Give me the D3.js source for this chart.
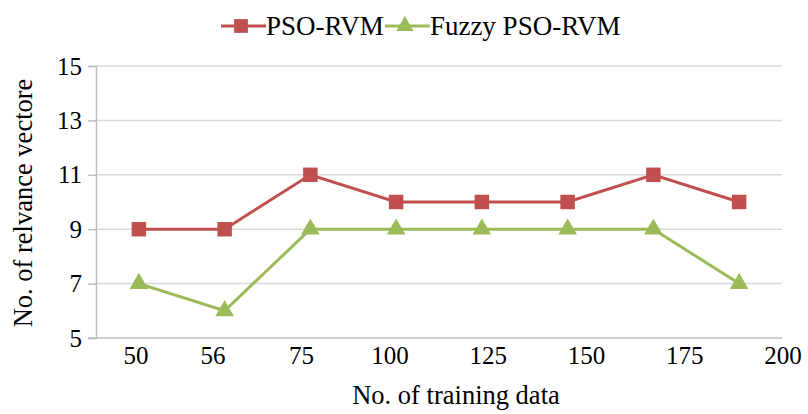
<!DOCTYPE html>
<html>
<head>
<meta charset="utf-8">
<script src="https://cdn.jsdelivr.net/npm/d3@7.9.0/dist/d3.min.js"></script>
<style>
  body { margin: 0; background: #fff; }
  text { font-family: "Liberation Serif", "Times New Roman", serif; fill: #000; }
</style>
</head>
<body>
<svg id="chart" width="808" height="414"></svg>
<script>
// data
const trainingSizes = ['50', '56', '75', '100', '125', '150', '175', '200'];
const psoRvm = [9, 9, 11, 10, 10, 10, 11, 10];
const fuzzyPsoRvm = [7, 6, 9, 9, 9, 9, 9, 7];
const yTicks = [5, 7, 9, 11, 13, 15];

const svg = d3.select('#chart');
const plotLeft = 96, plotRight = 782, plotTop = 66, plotBottom = 338;

const x = d3.scaleBand().domain(d3.range(trainingSizes.length)).range([plotLeft, plotRight]);
const y = d3.scaleLinear().domain([5, 15]).range([plotBottom, plotTop]);
// the tick labels in the original sit on their own, uneven spacing
const labelX = d3.scaleLinear().domain([0, 1, 3, 7]).range([136, 213, 390, 783]);

// gridlines
svg.append('g')
  .selectAll('line')
  .data(yTicks.filter(d => d > 5))
  .join('line')
  .attr('x1', plotLeft).attr('x2', plotRight)
  .attr('y1', d => y(d)).attr('y2', d => y(d))
  .attr('stroke', '#d9d9d9').attr('stroke-width', 1.5);

// y axis
const yAxis = svg.append('g')
  .attr('transform', `translate(${plotLeft},0)`)
  .call(d3.axisLeft(y).tickValues(yTicks).tickSize(8).tickPadding(6));
yAxis.select('.domain').attr('stroke', '#bfbfbf').attr('stroke-width', 1.5);
yAxis.selectAll('.tick line').attr('stroke', '#bfbfbf').attr('stroke-width', 1.5);
yAxis.selectAll('.tick text')
  .style('font-family', '"Liberation Serif", serif')
  .style('font-size', '25px')
  .attr('fill', '#000');

// x axis line
svg.append('line')
  .attr('x1', plotLeft - 8).attr('x2', plotRight)
  .attr('y1', plotBottom).attr('y2', plotBottom)
  .attr('stroke', '#bfbfbf').attr('stroke-width', 1.5);

svg.append('g')
  .selectAll('text')
  .data(trainingSizes)
  .join('text')
  .attr('x', (d, i) => labelX(i))
  .attr('y', plotBottom + 26)
  .attr('text-anchor', 'middle')
  .style('font-size', '25px')
  .text(d => d);

// axis titles
svg.append('text')
  .attr('x', 456).attr('y', 404)
  .attr('text-anchor', 'middle')
  .style('font-size', '26.5px')
  .text('No. of training data');

svg.append('text')
  .attr('transform', 'translate(32,203) rotate(-90)')
  .attr('text-anchor', 'middle')
  .style('font-size', '26.5px')
  .text('No. of relvance vectore');

// series
const cx = i => x(i) + x.bandwidth() / 2;
const line = d3.line().x((d, i) => cx(i)).y(d => y(d));
const tri = d3.symbol().type(d3.symbolTriangle).size(150);
const sq = d3.symbol().type(d3.symbolSquare).size(210);

const series = [
  { name: 'PSO-RVM', values: psoRvm, color: '#c0504d', marker: sq },
  { name: 'Fuzzy PSO-RVM', values: fuzzyPsoRvm, color: '#9bbb59', marker: tri }
];

series.forEach(s => {
  svg.append('path')
    .attr('d', line(s.values))
    .attr('fill', 'none')
    .attr('stroke', s.color)
    .attr('stroke-width', 3);
  svg.append('g')
    .selectAll('path')
    .data(s.values)
    .join('path')
    .attr('d', s.marker)
    .attr('transform', (d, i) => `translate(${cx(i)},${y(d)})`)
    .attr('fill', s.color);
});

// legend
const legend = svg.append('g').attr('transform', 'translate(221,26)');
let lx = 0;
series.forEach(s => {
  const g = legend.append('g').attr('transform', `translate(${lx},0)`);
  g.append('line')
    .attr('x1', 0).attr('x2', 45)
    .attr('stroke', s.color).attr('stroke-width', 3);
  g.append('path')
    .attr('d', s.marker === sq ? d3.symbol().type(d3.symbolSquare).size(190)() : d3.symbol().type(d3.symbolTriangle).size(130)())
    .attr('transform', 'translate(20,0)')
    .attr('fill', s.color);
  const t = g.append('text')
    .attr('x', 45).attr('y', 9)
    .style('font-size', '27px')
    .text(s.name);
  lx += 45 + t.node().getComputedTextLength() + 1;
});
</script>
</body>
</html>
